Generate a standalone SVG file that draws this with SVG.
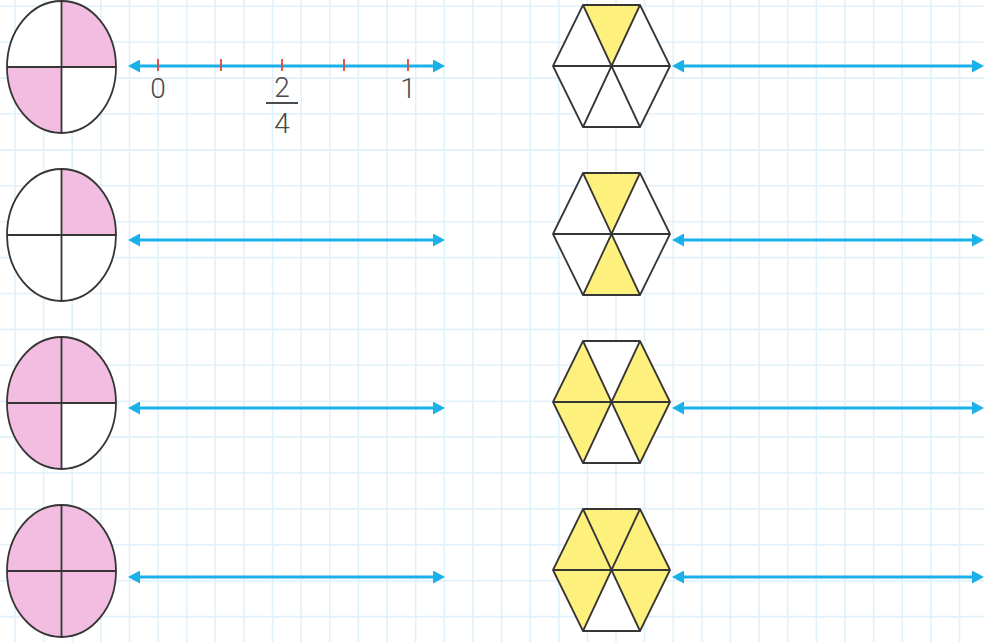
<svg xmlns="http://www.w3.org/2000/svg" width="984" height="642" viewBox="0 0 984 642">
<style>
.grid{stroke:#e0f1fb;stroke-width:1.6;fill:none}
.shape{stroke:#363636;stroke-width:1.8;fill:none;stroke-linejoin:round}
.pink{fill:#f2bde0}
.yel{fill:#fef07c}
.wh{fill:#ffffff}
.axis{stroke:#1ab0ea;stroke-width:3;fill:none}
.tick{stroke:#e2463e;stroke-width:1.8}
.num{font-family:Roboto,"Liberation Sans",sans-serif;font-weight:300;font-size:28px;fill:#4a4a4a;text-anchor:middle}
</style>
<defs>
<marker id="ah" viewBox="0 0 12 13" refX="4" refY="6.5" markerWidth="12" markerHeight="13" markerUnits="userSpaceOnUse" orient="auto-start-reverse">
<path d="M0,0 L12,6.5 L0,13 Z" fill="#1ab0ea"/>
</marker>
<g id="hexlines">
<polygon class="shape" points="-58.5,0 -28.5,-61 28.5,-61 58.5,0 28.5,61 -28.5,61"/>
<path class="shape" d="M-58.5,0 H58.5 M-28.5,-61 L28.5,61 M28.5,-61 L-28.5,61"/>
</g>
</defs>
<rect width="984" height="642" fill="#ffffff"/>
<g id="grid">
<path class="grid" d="M15,0V642M43.6,0V642M72.2,0V642M100.9,0V642M129.5,0V642M158.1,0V642M186.7,0V642M215.3,0V642M244,0V642M272.6,0V642M301.2,0V642M329.8,0V642M358.4,0V642M387.1,0V642M415.7,0V642M444.3,0V642M472.9,0V642M501.5,0V642M530.2,0V642M558.8,0V642M587.4,0V642M616,0V642M644.6,0V642M673.3,0V642M701.9,0V642M730.5,0V642M759.1,0V642M787.7,0V642M816.4,0V642M845,0V642M873.6,0V642M902.2,0V642M930.8,0V642M959.5,0V642"/>
<path class="grid" d="M0,6.3H984M0,42.2H984M0,78.1H984M0,114H984M0,149.9H984M0,185.8H984M0,221.7H984M0,257.6H984M0,293.5H984M0,329.4H984M0,365.3H984M0,401.2H984M0,437.1H984M0,473H984M0,508.9H984M0,544.8H984M0,580.7H984M0,616.6H984"/>
</g>

<g id="ellipse1" transform="translate(61.5,67)">
<ellipse class="wh" rx="54.5" ry="66"/>
<path class="pink" d="M0,0 V-66 A54.5,66 0 0 1 54.5,0 Z"/>
<path class="pink" d="M0,0 V66 A54.5,66 0 0 1 -54.5,0 Z"/>
<ellipse class="shape" rx="54.5" ry="66"/>
<path class="shape" d="M-54.5,0H54.5M0,-66V66"/>
</g>
<g id="ellipse2" transform="translate(61.5,235)">
<ellipse class="wh" rx="54.5" ry="66"/>
<path class="pink" d="M0,0 V-66 A54.5,66 0 0 1 54.5,0 Z"/>
<ellipse class="shape" rx="54.5" ry="66"/>
<path class="shape" d="M-54.5,0H54.5M0,-66V66"/>
</g>
<g id="ellipse3" transform="translate(61.5,403)">
<ellipse class="wh" rx="54.5" ry="66"/>
<path class="pink" d="M0,0 V-66 A54.5,66 0 0 1 54.5,0 Z"/>
<path class="pink" d="M0,0 H-54.5 A54.5,66 0 0 1 0,-66 Z"/>
<path class="pink" d="M0,0 V66 A54.5,66 0 0 1 -54.5,0 Z"/>
<ellipse class="shape" rx="54.5" ry="66"/>
<path class="shape" d="M-54.5,0H54.5M0,-66V66"/>
</g>
<g id="ellipse4" transform="translate(61.5,571)">
<ellipse class="pink" rx="54.5" ry="66"/>
<ellipse class="shape" rx="54.5" ry="66"/>
<path class="shape" d="M-54.5,0H54.5M0,-66V66"/>
</g>

<g id="hexagon1" transform="translate(611.5,66)">
<polygon class="wh" points="-58.5,0 -28.5,-61 28.5,-61 58.5,0 28.5,61 -28.5,61"/>
<polygon class="yel" points="0,0 -28.5,-61 28.5,-61"/>
<use href="#hexlines"/>
</g>
<g id="hexagon2" transform="translate(611.5,234)">
<polygon class="wh" points="-58.5,0 -28.5,-61 28.5,-61 58.5,0 28.5,61 -28.5,61"/>
<polygon class="yel" points="0,0 -28.5,-61 28.5,-61"/>
<polygon class="yel" points="0,0 28.5,61 -28.5,61"/>
<use href="#hexlines"/>
</g>
<g id="hexagon3" transform="translate(611.5,402)">
<polygon class="wh" points="-58.5,0 -28.5,-61 28.5,-61 58.5,0 28.5,61 -28.5,61"/>
<polygon class="yel" points="0,0 28.5,-61 58.5,0 28.5,61"/>
<polygon class="yel" points="0,0 -28.5,61 -58.5,0 -28.5,-61"/>
<use href="#hexlines"/>
</g>
<g id="hexagon4" transform="translate(611.5,570)">
<polygon class="yel" points="-58.5,0 -28.5,-61 28.5,-61 58.5,0 28.5,61 -28.5,61"/>
<polygon class="wh" points="0,0 28.5,61 -28.5,61"/>
<use href="#hexlines"/>
</g>

<g id="connectors">
<line class="axis" x1="136" y1="66" x2="437" y2="66" marker-start="url(#ah)" marker-end="url(#ah)"/>
<line class="axis" x1="136" y1="240" x2="437" y2="240" marker-start="url(#ah)" marker-end="url(#ah)"/>
<line class="axis" x1="136" y1="408" x2="437" y2="408" marker-start="url(#ah)" marker-end="url(#ah)"/>
<line class="axis" x1="136" y1="577" x2="437" y2="577" marker-start="url(#ah)" marker-end="url(#ah)"/>
<line class="axis" x1="680" y1="66" x2="976" y2="66" marker-start="url(#ah)" marker-end="url(#ah)"/>
<line class="axis" x1="680" y1="240" x2="976" y2="240" marker-start="url(#ah)" marker-end="url(#ah)"/>
<line class="axis" x1="680" y1="408" x2="976" y2="408" marker-start="url(#ah)" marker-end="url(#ah)"/>
<line class="axis" x1="680" y1="577" x2="976" y2="577" marker-start="url(#ah)" marker-end="url(#ah)"/>
</g>

<g id="numberline-labels">
<path class="tick" d="M158,59V71M221,59V71M282,59V71M344,59V71M408,59V71"/>
<text class="num" x="158" y="98">0</text>
<text class="num" x="408" y="98">1</text>
<text class="num" x="282" y="97">2</text>
<line x1="266" y1="103" x2="298" y2="103" stroke="#4a4a4a" stroke-width="2"/>
<text class="num" x="282" y="133">4</text>
</g>
</svg>
